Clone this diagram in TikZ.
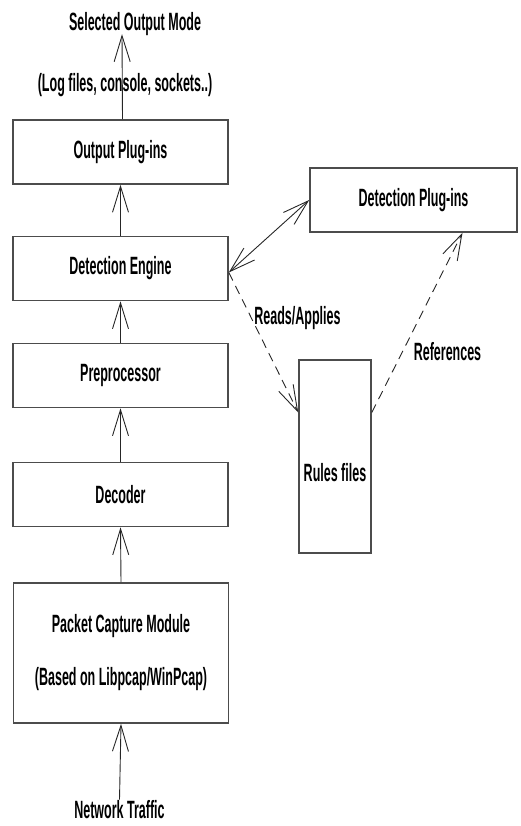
\documentclass[tikz,border=0pt]{standalone}
\usepackage{fontspec}
\newfontfamily\diagfont{Liberation Sans}[FakeStretch=0.5]
\usetikzlibrary{positioning,arrows.meta}

\begin{document}
\begin{tikzpicture}[x=1pt,y=1pt,>={Straight Barb[length=26pt,width=16pt]},
		font=\diagfont\bfseries\fontsize{25}{30}\selectfont]
			\tikzstyle{module}=[rectangle,draw=black!70,line width=1.6pt,minimum width=215pt,minimum height=64pt,inner sep=0pt]
			\tikzstyle{flow}=[->,draw=black!85,line width=0.9pt]
			\tikzstyle{link}=[flow,dashed,dash pattern=on 9pt off 6pt]
			
			% Fix the size of the page
			\useasboundingbox (0,0) rectangle (521,826);
			
			% Draw the main chain of modules
			\node[module] (outp) at (120.5,674) {Output Plug-ins};
			\node[module] (engine) at (120.5,557.5) {Detection Engine};
			\node[module] (prep) at (120.5,450.5) {Preprocessor};
			\node[module] (dec) at (120.5,331.5) {Decoder};
			\node[module, minimum height=140pt, align=center] (capture) at (121,173)
			{Packet Capture Module\\[23pt](Based on Libpcap/WinPcap)};
			
			% Draw the side modules
			\node[module, minimum width=207pt] (plugins) at (413.5,626) {Detection Plug-ins};
			\node[module, minimum width=72pt, minimum height=193pt] (rules) at (335,369.5) {};
			\node[yshift=-16pt] (rules-text) at (rules) {Rules files};
			
			% Draw the texts at the two ends
			\node (mode) at (135,802) {Selected Output Mode};
			\node (logs) at (125,741) {(Log files, console, sockets..)};
			\node[inner sep=1pt] (traffic) at (119.5,16) {Network Traffic};
			
			% Connect the chain from bottom to top
			\draw[flow] (traffic.north) -- (capture.south);
			\draw[flow] (capture.north) -- (dec.south);
			\draw[flow] (dec.north) -- (prep.south);
			\draw[flow] (prep.north) -- (engine.south);
			\draw[flow] (engine.north) -- (outp.south);
			\draw[flow] ([xshift=2pt]outp.north) -- ([xshift=-13pt,yshift=5pt]mode.south);
			
			% Connect the engine with the side modules
			\draw[flow,<->] ([yshift=-4pt]engine.east) -- (plugins.west);
			\draw[link] ([yshift=-4pt]engine.east) -- ([yshift=44pt]rules.west);
			\draw[link] ([yshift=44pt]rules.east) -- ([xshift=49pt]plugins.south);
			
			% Annotate the dashed links
			\node (reads) at (297.5,508) {Reads/Applies};
			\node (refs) at (447.5,474) {References};
		\end{tikzpicture}
\end{document}
